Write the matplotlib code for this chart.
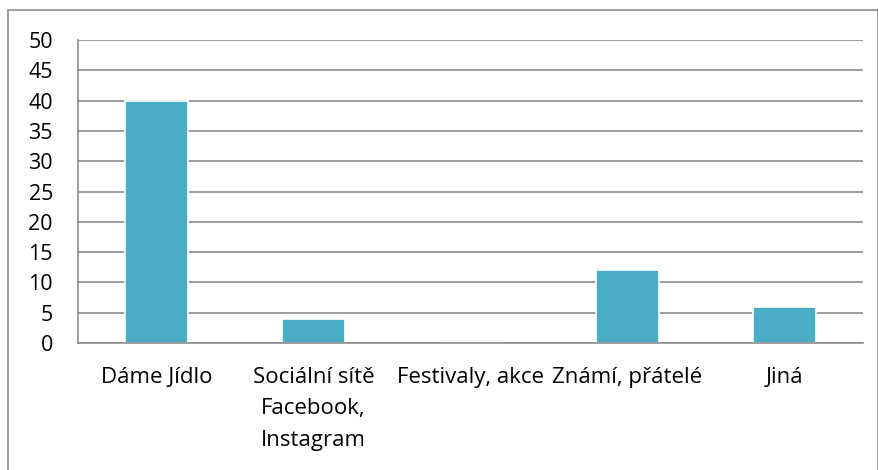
import matplotlib.pyplot as plt
from matplotlib.patches import Rectangle
import numpy as np

# data
categories = ['Dáme Jídlo', 'Sociální sítě\nFacebook,\nInstagram', 'Festivaly, akce',
              'Známí, přátelé', 'Jiná']
values = [40, 4, 0, 12, 6]
yticks = [0, 5, 10, 15, 20, 25, 30, 35, 40, 45, 50]

plt.rcParams['font.family'] = ['Open Sans', 'DejaVu Sans']

fig = plt.figure(figsize=(8.79, 4.70), dpi=100)
ax = fig.add_axes((0.0887, 0.270, 0.8931, 0.645))

# outer chart frame (right and bottom edges fall outside the image)
fig.patches.append(Rectangle((8/879, -0.01), 0.99, 1 - 10/470 + 0.01, transform=fig.transFigure,
                             fill=False, edgecolor='#8c8c8c', linewidth=1.2))

x = np.arange(len(categories))
ax.bar(x, values, width=0.4, color='#4BACC6', edgecolor='white', linewidth=1.2, zorder=3)

ax.set_xlim(-0.5, len(categories) - 0.5)
ax.set_ylim(0, 50)
ax.set_yticks(yticks)
ax.yaxis.grid(True, color='#8c8c8c', linewidth=1.2, zorder=0)
ax.set_axisbelow(True)

ax.set_xticks(x)
ax.set_xticklabels(categories, fontsize=16, linespacing=1.65, va='top')
ax.tick_params(axis='y', labelsize=15.5, length=0, pad=18)
ax.tick_params(axis='x', length=0, pad=17)

for s in ['top', 'right']:
    ax.spines[s].set_visible(False)
for s in ['left', 'bottom']:
    ax.spines[s].set_color('#8c8c8c')
    ax.spines[s].set_linewidth(1.2)
    ax.spines[s].set_zorder(4)

fig.savefig('out.png', dpi=100)
